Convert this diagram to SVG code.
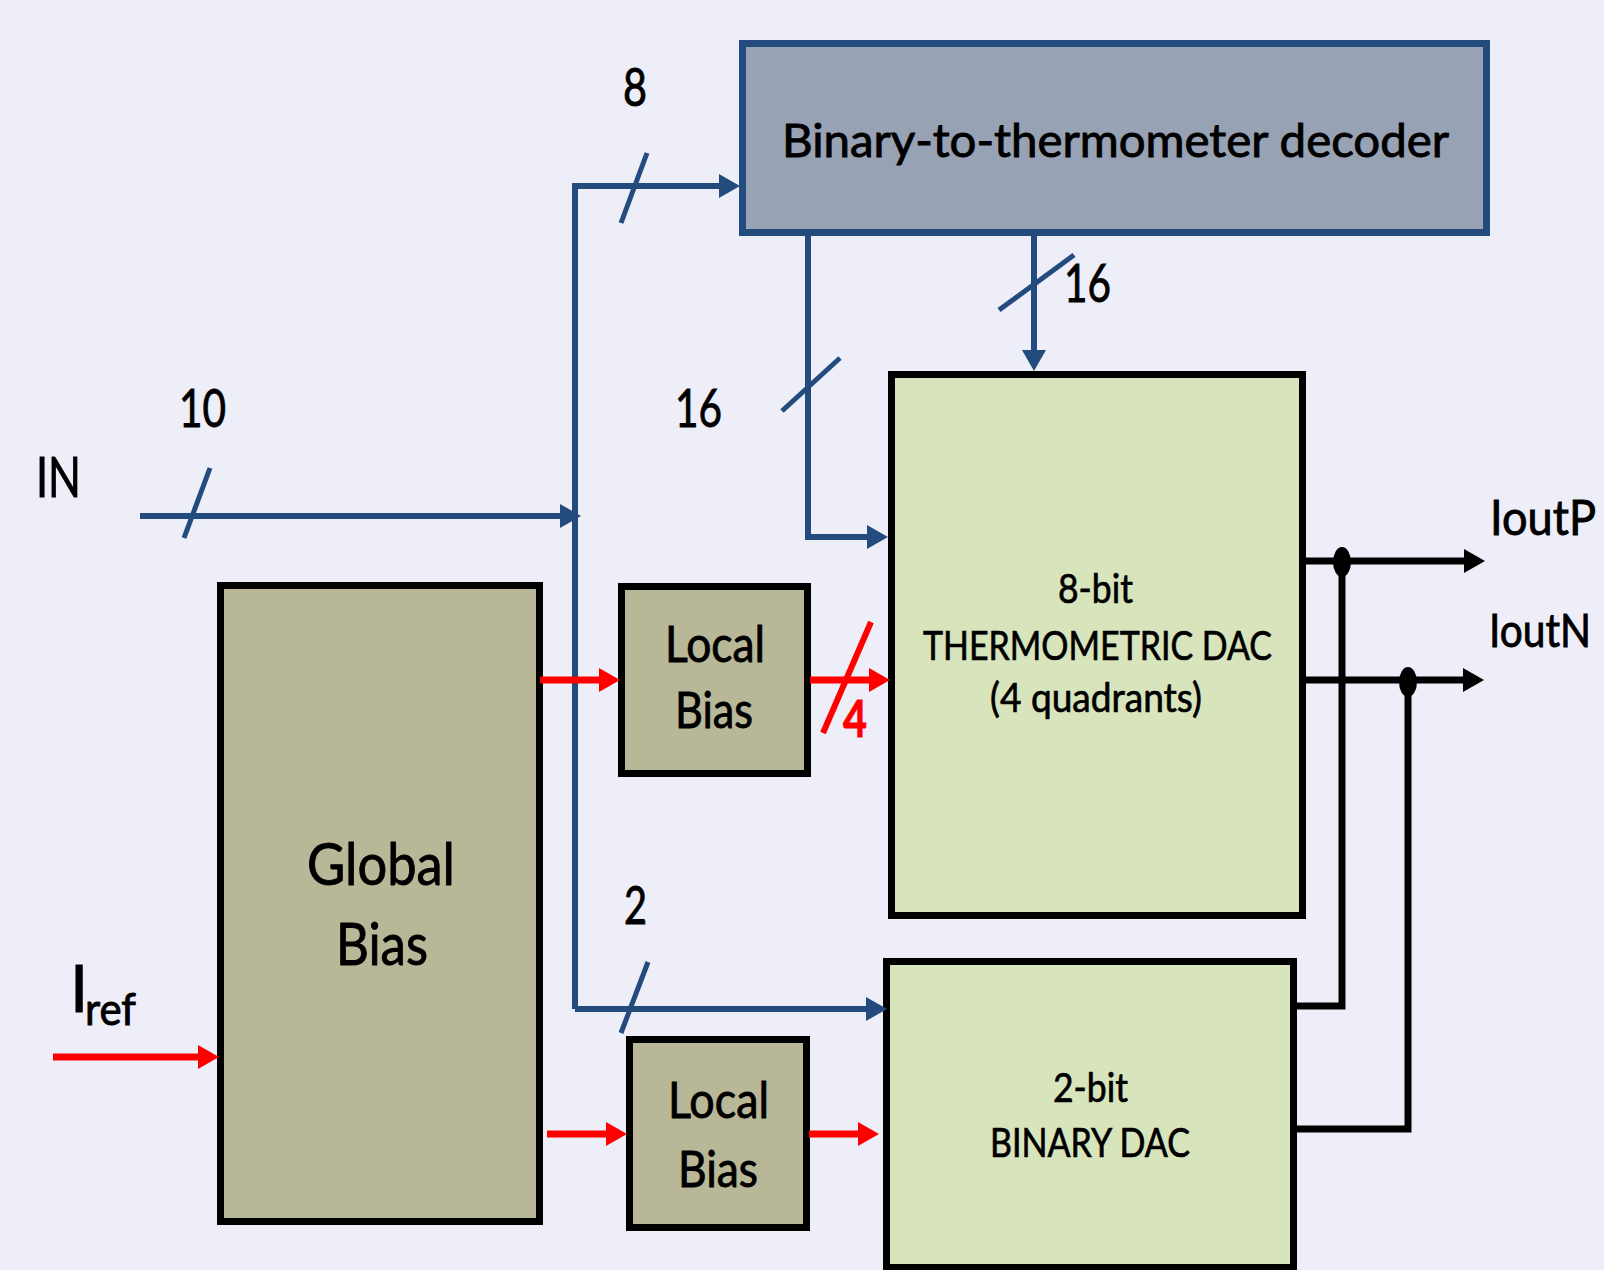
<svg xmlns="http://www.w3.org/2000/svg" width="1604" height="1270" viewBox="0 0 1604 1270">
<defs>
<style>
.t{font-family:Lato,"Open Sans","Liberation Sans",sans-serif;fill:#000;stroke:#000;stroke-width:0.9}
.s{stroke-width:0.7}
.box{stroke:#000;stroke-width:7}
.bias{fill:#B8B898}
.dac{fill:#D8E4BC}
.dec{fill:#98A2B5;stroke:#234B7E;stroke-width:7}
.bl{fill:none;stroke:#234B7E;stroke-width:6}
.rd{fill:none;stroke:#FF0000;stroke-width:7}
.bk{fill:none;stroke:#000;stroke-width:7}
.sl{stroke:#234B7E;stroke-width:5}
</style>
<marker id="ab" markerUnits="userSpaceOnUse" markerWidth="21" markerHeight="24" refX="0" refY="12" orient="auto"><path d="M0,0 L21,12 L0,24 z" fill="#234B7E"/></marker>
<marker id="ar" markerUnits="userSpaceOnUse" markerWidth="21" markerHeight="24" refX="0" refY="12" orient="auto"><path d="M0,0 L21,12 L0,24 z" fill="#FF0000"/></marker>
<marker id="ak" markerUnits="userSpaceOnUse" markerWidth="21" markerHeight="24" refX="0" refY="12" orient="auto"><path d="M0,0 L21,12 L0,24 z" fill="#000"/></marker>
</defs>
<rect width="1604" height="1270" fill="#EEEEF8"/>

<g id="decoder">
<rect class="dec" x="742.5" y="43.5" width="744" height="189"/>
<text class="t" x="782" y="157" font-size="46" textLength="667" lengthAdjust="spacingAndGlyphs">Binary-to-thermometer decoder</text>
</g>

<g id="thermo-dac">
<rect class="box dac" x="891.5" y="374.5" width="411" height="541"/>
<text class="t s" x="1058" y="603" font-size="40" textLength="75" lengthAdjust="spacingAndGlyphs">8-bit</text>
<text class="t s" x="923" y="660" font-size="40" textLength="349" lengthAdjust="spacingAndGlyphs">THERMOMETRIC DAC</text>
<text class="t s" x="990" y="712" font-size="40" textLength="212" lengthAdjust="spacingAndGlyphs">(4 quadrants)</text>
</g>

<g id="binary-dac">
<rect class="box dac" x="886.5" y="961.5" width="407" height="306"/>
<text class="t s" x="1053" y="1102" font-size="40" textLength="75" lengthAdjust="spacingAndGlyphs">2-bit</text>
<text class="t s" x="990" y="1157" font-size="40" textLength="200" lengthAdjust="spacingAndGlyphs">BINARY DAC</text>
</g>

<g id="global-bias">
<rect class="box bias" x="220.5" y="585.5" width="319" height="636"/>
<text class="t" x="307" y="885" font-size="58" textLength="148" lengthAdjust="spacingAndGlyphs">Global</text>
<text class="t" x="336" y="965" font-size="58" textLength="92" lengthAdjust="spacingAndGlyphs">Bias</text>
</g>

<g id="local-bias-1">
<rect class="box bias" x="621.5" y="586.5" width="186" height="187"/>
<text class="t" x="665" y="662" font-size="50" textLength="100" lengthAdjust="spacingAndGlyphs">Local</text>
<text class="t" x="675" y="728" font-size="50" textLength="78" lengthAdjust="spacingAndGlyphs">Bias</text>
</g>

<g id="local-bias-2">
<rect class="box bias" x="629.5" y="1039.5" width="177" height="188"/>
<text class="t" x="668" y="1118" font-size="50" textLength="101" lengthAdjust="spacingAndGlyphs">Local</text>
<text class="t" x="678" y="1187" font-size="50" textLength="80" lengthAdjust="spacingAndGlyphs">Bias</text>
</g>

<g id="connectors">
<path class="bl" d="M140,516 H560" marker-end="url(#ab)"/>
<path class="bl" d="M575,1009 V186 H719" marker-end="url(#ab)"/>
<path class="bl" d="M575,1009 H866" marker-end="url(#ab)"/>
<path class="bl" d="M808,236 V537 H867" marker-end="url(#ab)"/>
<path class="bl" d="M1034,236 V350" marker-end="url(#ab)"/>
<line class="sl" x1="210" y1="468" x2="184" y2="538"/>
<line class="sl" x1="647" y1="153" x2="621" y2="223"/>
<line class="sl" x1="1074" y1="255" x2="999" y2="310"/>
<line class="sl" x1="840" y1="358" x2="782" y2="411"/>
<line class="sl" x1="648" y1="962" x2="621" y2="1033"/>

<path class="rd" d="M53,1057 H198" marker-end="url(#ar)"/>
<path class="rd" d="M540,680 H599" marker-end="url(#ar)"/>
<path class="rd" d="M810,680 H869" marker-end="url(#ar)"/>
<path class="rd" d="M547,1134 H606" marker-end="url(#ar)"/>
<path class="rd" d="M809,1134 H858" marker-end="url(#ar)"/>
<line x1="871" y1="622" x2="823" y2="733" stroke="#FF0000" stroke-width="6"/>

<path class="bk" d="M1306,561 H1464" marker-end="url(#ak)"/>
<path class="bk" d="M1306,680 H1463" marker-end="url(#ak)"/>
<path class="bk" d="M1297,1006 H1342 V561"/>
<path class="bk" d="M1297,1129 H1408 V680"/>
<ellipse cx="1342" cy="562" rx="9" ry="15" fill="#000"/>
<ellipse cx="1408" cy="682" rx="9" ry="15" fill="#000"/>
</g>

<g id="labels">
<text class="t" x="36" y="497" font-size="56" textLength="45" lengthAdjust="spacingAndGlyphs">IN</text>
<text class="t" x="179" y="427" font-size="52" textLength="47" lengthAdjust="spacingAndGlyphs">10</text>
<text class="t" x="623" y="106" font-size="52" textLength="24" lengthAdjust="spacingAndGlyphs">8</text>
<text class="t" x="675" y="427" font-size="52" textLength="47" lengthAdjust="spacingAndGlyphs">16</text>
<text class="t" x="1064" y="302" font-size="52" textLength="47" lengthAdjust="spacingAndGlyphs">16</text>
<text class="t" x="624" y="924" font-size="52" textLength="23" lengthAdjust="spacingAndGlyphs">2</text>
<text class="t" x="843" y="737" font-size="52" font-weight="bold" style="fill:#FF0000;stroke:#FF0000" textLength="24" lengthAdjust="spacingAndGlyphs">4</text>
<text class="t" x="1490" y="535" font-size="49" textLength="106" lengthAdjust="spacingAndGlyphs">IoutP</text>
<text class="t" x="1489" y="647" font-size="47" textLength="102" lengthAdjust="spacingAndGlyphs">IoutN</text>
<text class="t" x="70" y="1012" font-size="65">I</text>
<text class="t" x="85" y="1025" font-size="44" textLength="51" lengthAdjust="spacingAndGlyphs">ref</text>
</g>
</svg>
